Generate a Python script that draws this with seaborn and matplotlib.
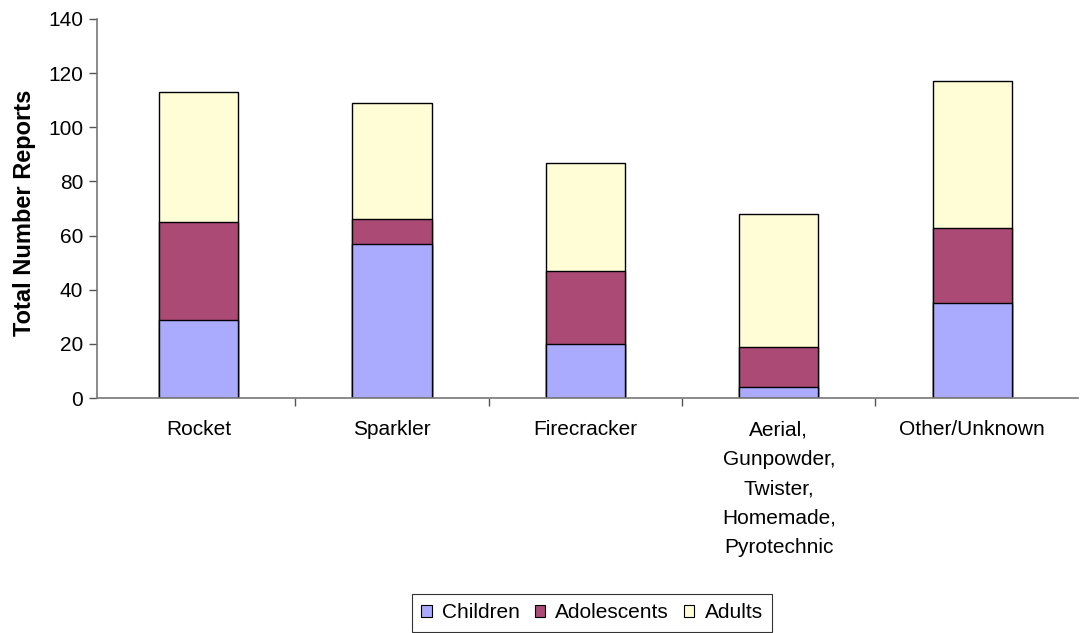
import pandas as pd
import numpy as np
import seaborn as sns
import matplotlib.pyplot as plt
from matplotlib.patches import Patch

categories = ['Rocket', 'Sparkler', 'Firecracker',
              'Aerial,\nGunpowder,\nTwister,\nHomemade,\nPyrotechnic', 'Other/Unknown']
children = [29, 57, 20, 4, 35]
adolescents = [36, 9, 27, 15, 28]
adults = [48, 43, 40, 49, 54]
groups = ['Children', 'Adolescents', 'Adults']
colors = ['#AAAAFF', '#AA4A75', '#FFFDD5']

sns.set_style('white')
plt.rcParams['font.family'] = ['Liberation Sans', 'DejaVu Sans']
plt.rcParams['text.color'] = 'black'
plt.rcParams['xtick.color'] = 'black'
plt.rcParams['ytick.color'] = 'black'
plt.rcParams['axes.labelcolor'] = 'black'

DF = pd.DataFrame({'cat': categories, 'Children': children,
                   'Adolescents': adolescents, 'Adults': adults})
DF['c1'] = DF['Children']
DF['c2'] = DF['c1'] + DF['Adolescents']
DF['c3'] = DF['c2'] + DF['Adults']

fig = plt.figure(figsize=(10.83, 6.33), dpi=100)
ax = fig.add_axes([0.0896, 0.371, 0.906, 0.599])

# stacked bars: draw cumulative totals from top segment down
for col, color in zip(['c3', 'c2', 'c1'], colors[::-1]):
    sns.barplot(data=DF, x='cat', y=col, color=color, width=0.41,
                edgecolor='black', linewidth=1.0, saturation=1, ax=ax)

ax.set_ylim(0, 140)
ax.set_xlim(-0.524, 4.548)
ax.set_yticks(np.arange(0, 141, 20))
ax.set_ylabel('Total Number Reports', fontsize=17, fontweight='bold')
ax.yaxis.set_label_coords(-0.062, 0.49)
ax.set_xlabel('')
ax.tick_params(axis='y', which='major', direction='out', length=6, width=1,
               color='#555555', labelsize=15, pad=4, left=True)
ax.tick_params(axis='x', which='major', length=0, labelsize=15, pad=16)
ax.set_xticks(np.arange(0.5, 4.5, 1.0), minor=True)
ax.tick_params(axis='x', which='minor', direction='out', length=6, width=1,
               color='#555555', bottom=True)
for lbl in ax.get_xticklabels():
    lbl.set_linespacing(1.7)

for side in ['top', 'right']:
    ax.spines[side].set_visible(False)
for side in ['left', 'bottom']:
    ax.spines[side].set_color('#777777')
    ax.spines[side].set_linewidth(1.2)

handles = [Patch(facecolor=c, edgecolor='black', linewidth=0.8, label=g)
           for c, g in zip(colors, groups)]
leg = fig.legend(handles=handles, loc='upper center', ncol=3,
                 bbox_to_anchor=(592 / 1083, 1 - 594 / 633),
                 bbox_transform=fig.transFigure, fontsize=15,
                 frameon=True, fancybox=False, handlelength=0.5,
                 handleheight=0.5, handletextpad=0.5, columnspacing=0.7,
                 borderpad=0.45, borderaxespad=0)
leg.get_frame().set_edgecolor('black')
leg.get_frame().set_linewidth(0.8)

fig.savefig('out.png', dpi=100)
